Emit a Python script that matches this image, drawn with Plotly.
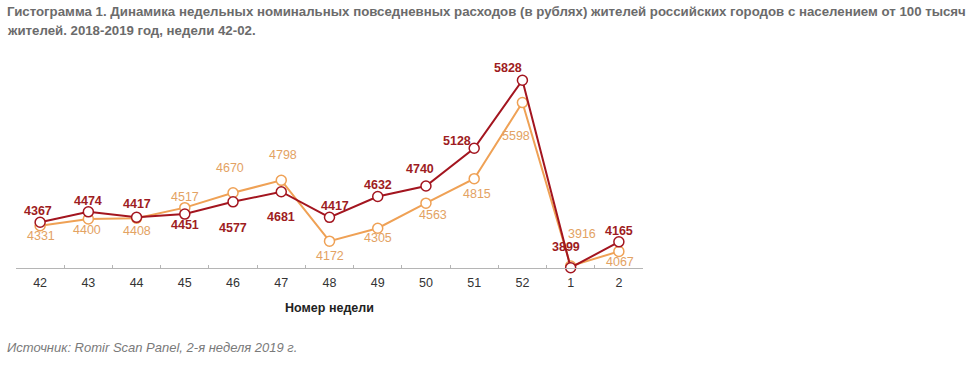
import plotly.graph_objects as go

weeks = ["42", "43", "44", "45", "46", "47", "48", "49", "50", "51", "52", "1", "2"]
series_2018 = [4367, 4474, 4417, 4451, 4577, 4681, 4417, 4632, 4740, 5128, 5828, 3899, 4165]
series_2017 = [4331, 4400, 4408, 4517, 4670, 4798, 4172, 4305, 4563, 4815, 5598, 3916, 4067]

title_line1 = "Гистограмма 1. Динамика недельных номинальных повседневных расходов (в рублях) жителей российских городов с населением от 100 тысяч"
title_line2 = "жителей. 2018-2019 год, недели 42-02."
source_text = "Источник: Romir Scan Panel, 2-я неделя 2019 г."
x_title = "Номер недели"

RED = "#A3151F"
ORANGE = "#EFA155"
RED_TXT = "#9E1C22"
ORANGE_TXT = "#E3A263"
FONT = "Liberation Sans, Arial"

# label offsets in pixels (dx, dy) - style only
red_off = [(-2, 11), (0, 11), (0, 13), (0, -11), (0, -26), (0, -25), (5, 11), (0, 11), (-6, 17), (-17, 7), (-14, 12), (-5, 21), (0, 11)]
org_off = [(1, -10), (-1, -11), (0, -13), (0, 11), (-3, 25), (2, 25), (0, -15), (0, -10), (7, -12), (3, -15), (-6, -33), (11, 32), (1, -11)]

fig = go.Figure()
fig.add_trace(go.Scatter(
    x=weeks, y=series_2017, mode="lines+markers",
    line=dict(color=ORANGE, width=2),
    marker=dict(size=10, color="white", line=dict(color=ORANGE, width=1.5)),
    cliponaxis=False, showlegend=False, hoverinfo="skip"))
fig.add_trace(go.Scatter(
    x=weeks, y=series_2018, mode="lines+markers",
    line=dict(color=RED, width=2),
    marker=dict(size=10, color="white", line=dict(color=RED, width=1.5)),
    cliponaxis=False, showlegend=False, hoverinfo="skip"))

annotations = []
for i, (v, (dx, dy)) in enumerate(zip(series_2018, red_off)):
    annotations.append(dict(x=i, y=v, xref="x", yref="y", text=f"<b>{v}</b>", showarrow=False,
                            xshift=dx, yshift=dy,
                            font=dict(family=FONT, size=12.5, color=RED_TXT)))
for i, (v, (dx, dy)) in enumerate(zip(series_2017, org_off)):
    annotations.append(dict(x=i, y=v, xref="x", yref="y", text=str(v), showarrow=False,
                            xshift=dx, yshift=dy,
                            font=dict(family=FONT, size=12.5, color=ORANGE_TXT)))

annotations.append(dict(x=0, y=1, xref="paper", yref="paper", xanchor="left", yanchor="top",
                        text=f"<b>{title_line1}</b>", showarrow=False, xshift=-11, yshift=58,
                        font=dict(family=FONT, size=13.25, color="#6b6b6b")))
annotations.append(dict(x=0, y=1, xref="paper", yref="paper", xanchor="left", yanchor="top",
                        text=f"<b>{title_line2}</b>", showarrow=False, xshift=-11, yshift=39,
                        font=dict(family=FONT, size=13.25, color="#6b6b6b")))
annotations.append(dict(x=0, y=0, xref="paper", yref="paper", xanchor="left", yanchor="top",
                        text=f"<i>{source_text}</i>", showarrow=False, xshift=-11, yshift=-70,
                        font=dict(family=FONT, size=13, color="#7a7a7a")))

fig.update_layout(
    width=979, height=368,
    margin=dict(l=16, r=336, t=60, b=100),
    paper_bgcolor="white", plot_bgcolor="white",
    annotations=annotations,
    xaxis=dict(type="category", range=[-0.5, 12.5], showgrid=False, zeroline=False,
               showline=True, linecolor="#b5b5b5", linewidth=1,
               ticks="inside", ticklen=3, tickcolor="#b5b5b5", tickson="boundaries",
               ticklabelstandoff=3,
               tickfont=dict(family=FONT, size=12.5, color="#333333"),
               title=dict(text=f"<b>{x_title}</b>", standoff=14,
                          font=dict(family=FONT, size=12.5, color="#222222"))),
    yaxis=dict(range=[3896, 6036], visible=False, showgrid=False, zeroline=False),
)

fig.write_html("out.html", config={"displayModeBar": False},
               post_script="document.body.style.margin='0';")
